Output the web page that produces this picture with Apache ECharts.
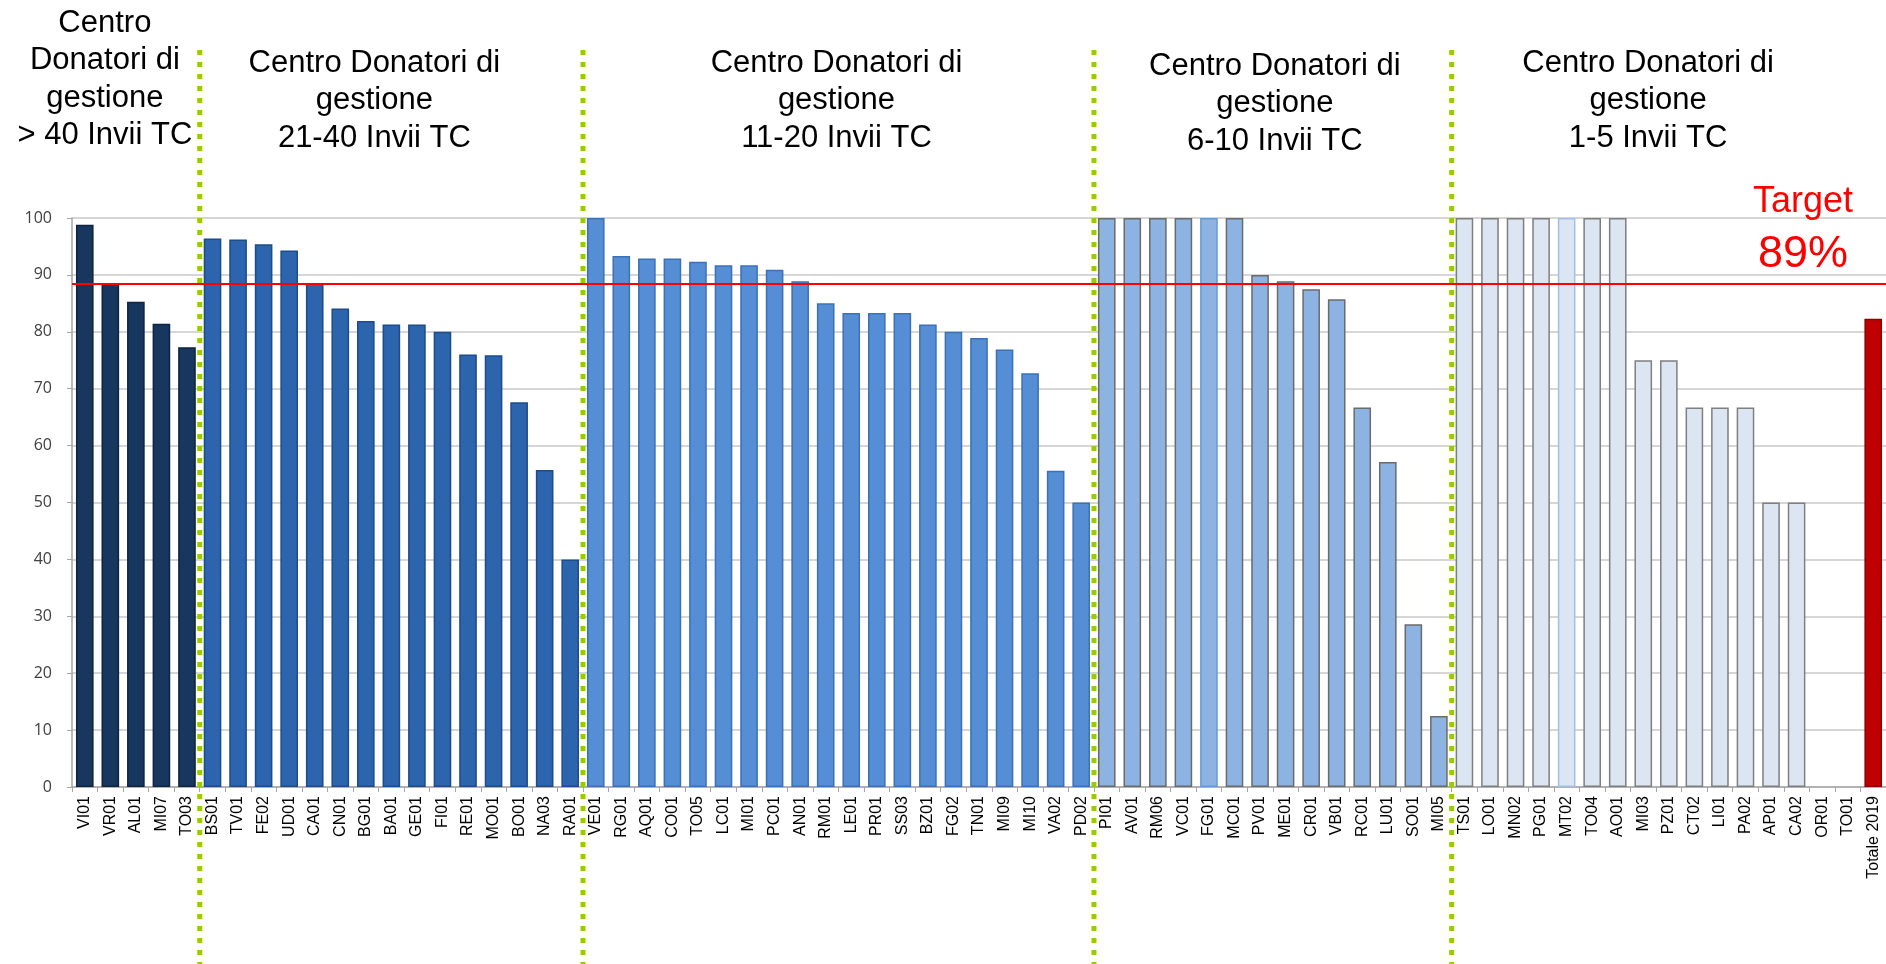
<!DOCTYPE html>
<html>
<head>
<meta charset="utf-8">
<title>Centri Donatori - Invii TC</title>
<script src="https://cdn.jsdelivr.net/npm/echarts@6/dist/echarts.min.js"></script>
<style>
  html, body { margin: 0; padding: 0; background: #fff; }
  #main { width: 1886px; height: 964px; }
</style>
</head>
<body>
<div id="main"></div>
<script>
// dati per fascia di invii
var g1Labels = ['VI01', 'VR01', 'AL01', 'MI07', 'TO03'];
var g1Values = [98.8, 88.4, 85.3, 81.4, 77.3];

var g2Labels = ['BS01', 'TV01', 'FE02', 'UD01', 'CA01', 'CN01', 'BG01', 'BA01', 'GE01', 'FI01', 'RE01', 'MO01', 'BO01', 'NA03', 'RA01'];
var g2Values = [96.4, 96.2, 95.4, 94.3, 88.5, 84.1, 81.9, 81.3, 81.3, 80.0, 76.0, 75.9, 67.6, 55.7, 40.0];

var g3Labels = ['VE01', 'RG01', 'AQ01', 'CO01', 'TO05', 'LC01', 'MI01', 'PC01', 'AN01', 'RM01', 'LE01', 'PR01', 'SS03', 'BZ01', 'FG02', 'TN01', 'MI09', 'MI10', 'VA02', 'PD02'];
var g3Values = [100, 93.3, 92.9, 92.9, 92.3, 91.7, 91.7, 90.9, 88.9, 85.0, 83.3, 83.3, 83.3, 81.3, 80.0, 78.9, 76.9, 72.7, 55.6, 50.0];

var g4Labels = ['PI01', 'AV01', 'RM06', 'VC01', 'FG01', 'MC01', 'PV01', 'ME01', 'CR01', 'VB01', 'RC01', 'LU01', 'SO01', 'MI05'];
var g4Values = [100, 100, 100, 100, 100, 100, 90.0, 88.9, 87.5, 85.7, 66.7, 57.1, 28.6, 12.5];

var g5Labels = ['TS01', 'LO01', 'MN02', 'PG01', 'MT02', 'TO04', 'AO01', 'MI03', 'PZ01', 'CT02', 'LI01', 'PA02', 'AP01', 'CA02', 'OR01', 'TO01'];
var g5Values = [100, 100, 100, 100, 100, 100, 100, 75, 75, 66.7, 66.7, 66.7, 50, 50, null, null];

var totLabels = ['Totale 2019'];
var totValues = [82.3];

var targetValue = 88.5;
var yTicks = [0, 10, 20, 30, 40, 50, 60, 70, 80, 90, 100];

var groupTitles = [
    'Centro\nDonatori di\ngestione\n> 40 Invii TC',
    'Centro Donatori di\ngestione\n21-40 Invii TC',
    'Centro Donatori di\ngestione\n11-20 Invii TC',
    'Centro Donatori di\ngestione\n6-10 Invii TC',
    'Centro Donatori di\ngestione\n1-5 Invii TC'
];

// stile di ogni fascia
var groups = [
    { labels: g1Labels, values: g1Values, fill: '#17375e', border: '#0e2440', dx: -31, top: 4 },
    { labels: g2Labels, values: g2Values, fill: '#2c64ad', border: '#1d4c8a', dx: -17, top: 44 },
    { labels: g3Labels, values: g3Values, fill: '#558ed5', border: '#3c71b5', dx: -2, top: 44 },
    { labels: g4Labels, values: g4Values, fill: '#8db3e2', border: '#6b6b6b', dx: 2, top: 47 },
    { labels: g5Labels, values: g5Values, fill: '#dce6f2', border: '#7f7f7f', dx: -8, top: 44 },
    { labels: totLabels, values: totValues, fill: '#c00000', border: '#8a0000', dx: 0, top: 0 }
];

// bordi particolari
var specialBorder = { 'FG01': '#6699d6', 'MT02': '#a3bfe6' };

var categories = [];
var barData = [];
groups.forEach(function(g) {
    g.labels.forEach(function(name, i) {
        categories.push(name);
        barData.push({
            value: g.values[i] === null ? '-' : g.values[i],
            itemStyle: {
                color: g.fill,
                borderColor: specialBorder[name] || g.border,
                borderWidth: 1.5
            }
        });
    });
});

var chart = echarts.init(document.getElementById('main'));

chart.setOption({
    animation: false,
    grid: { left: 72, right: 0, top: 218, bottom: 177 },
    xAxis: {
        type: 'category',
        data: categories,
        axisLine: { lineStyle: { color: '#a6a6a6', width: 1.5 } },
        axisTick: { show: true, interval: 0, length: 5, lineStyle: { color: '#a6a6a6' } },
        axisLabel: {
            interval: 0,
            rotate: 90,
            margin: 9,
            color: '#000',
            fontSize: 16,
            fontFamily: 'Liberation Sans'
        }
    },
    yAxis: {
        type: 'value',
        min: yTicks[0],
        max: yTicks[yTicks.length - 1],
        interval: 10,
        axisLine: { show: true, lineStyle: { color: '#a6a6a6', width: 1.5 } },
        axisTick: { show: true, length: 5, lineStyle: { color: '#a6a6a6' } },
        axisLabel: { margin: 20, color: '#404040', fontSize: 16, fontFamily: 'Open Sans' },
        splitLine: { lineStyle: { color: '#c8c8c8', width: 1.5 } }
    },
    series: [{
        type: 'bar',
        data: barData,
        barWidth: '69%',
        markLine: {
            silent: true,
            symbol: 'none',
            label: { show: false },
            lineStyle: { color: '#ff0000', width: 2, type: 'solid' },
            data: [{ yAxis: targetValue }]
        }
    }]
});

// separatori verdi e titoli delle fasce
function xOf(i) {
    return chart.convertToPixel({ xAxisIndex: 0 }, categories[i]);
}
var band = xOf(1) - xOf(0);
var elements = [];
var start = 0;
groups.forEach(function(g, gi) {
    var end = start + g.labels.length;
    var left = xOf(start) - band / 2;
    var right = xOf(end - 1) + band / 2;
    if (gi > 0 && gi < 5) {
        elements.push({
            type: 'line',
            z: 100,
            shape: { x1: left, y1: 50, x2: left, y2: 964 },
            style: { stroke: '#99cc00', lineWidth: 5, lineDash: [5, 7] }
        });
    }
    if (gi < 5) {
        elements.push({
            type: 'text',
            z: 100,
            style: {
                text: groupTitles[gi],
                x: (left + right) / 2 + g.dx,
                y: g.top + 0.5,
                align: 'center',
                verticalAlign: 'top',
                lineHeight: 37.5,
                font: '31px "Liberation Sans", Arial, sans-serif',
                fill: '#000'
            }
        });
    }
    start = end;
});

elements.push({
    type: 'text',
    z: 100,
    style: {
        text: 'Target', x: 1803, y: 202, align: 'center', verticalAlign: 'middle',
        font: '36px "Liberation Sans", Arial, sans-serif', fill: '#ff0000'
    }
});
elements.push({
    type: 'text',
    z: 100,
    style: {
        text: Math.round(targetValue) + '%', x: 1803, y: 255, align: 'center', verticalAlign: 'middle',
        font: '45px "Liberation Sans", Arial, sans-serif', fill: '#ff0000'
    }
});

chart.setOption({ graphic: elements });
</script>
</body>
</html>
